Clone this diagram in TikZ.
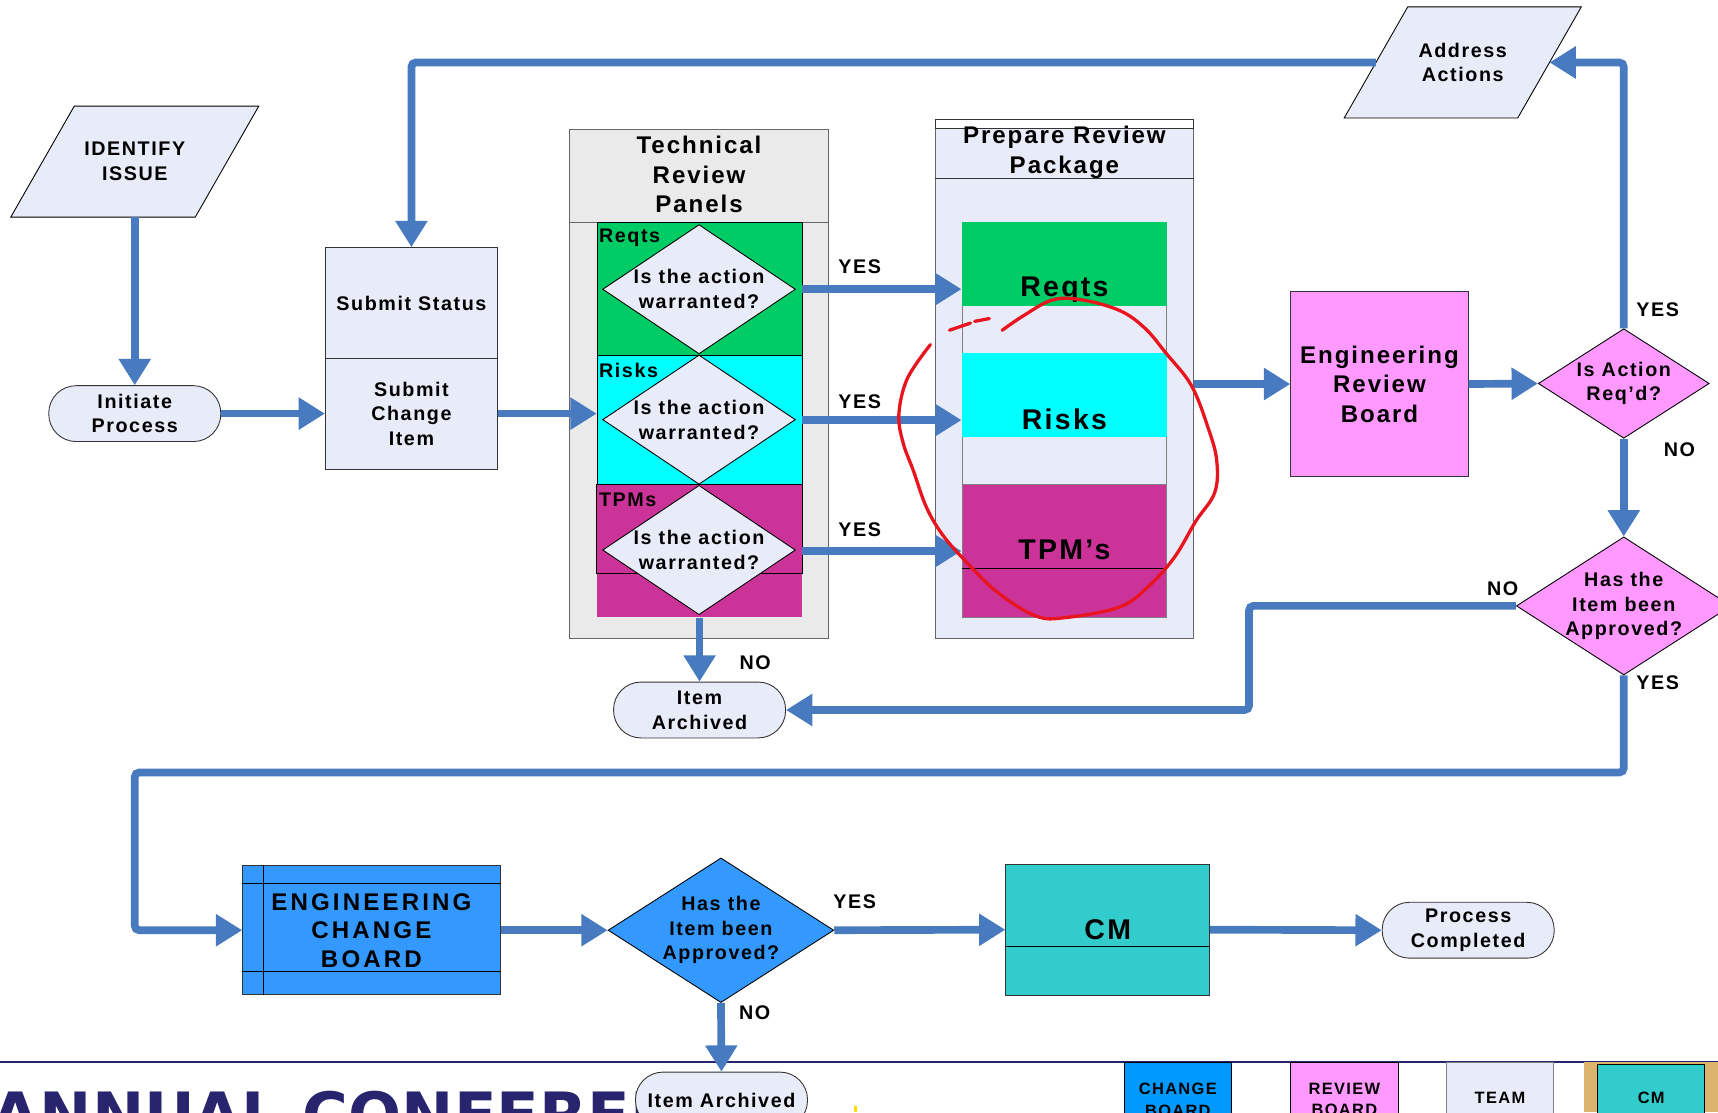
\documentclass[tikz,border=0pt]{standalone}
\usepackage{fontspec}
\setmainfont[LetterSpace=8]{Liberation Sans}
\newfontfamily\widefont[LetterSpace=13]{Liberation Sans}
\newfontfamily\conffont{DejaVu Sans}
\usetikzlibrary{shapes.geometric, arrows.meta, positioning, backgrounds}

\definecolor{flowblue}{RGB}{72,122,192}
\definecolor{boxfill}{RGB}{232,236,248}
\definecolor{panelgrey}{RGB}{234,234,234}
\definecolor{reqgreen}{RGB}{0,204,102}
\definecolor{riskcyan}{RGB}{0,255,255}
\definecolor{tpmmagenta}{RGB}{204,51,153}
\definecolor{boardpink}{RGB}{255,153,255}
\definecolor{ecbblue}{RGB}{51,153,255}
\definecolor{cmteal}{RGB}{51,204,204}
\definecolor{legblue}{RGB}{0,153,255}
\definecolor{confnavy}{RGB}{40,36,110}
\definecolor{penred}{RGB}{232,20,30}
\definecolor{framegold}{RGB}{220,180,110}

\tikzset{
  txt/.style={font=\fontsize{18}{22.5}\selectfont\bfseries, align=center},
  big/.style={font=\fontsize{22}{27}\selectfont\bfseries, align=center},
  huge/.style={font=\fontsize{26}{30}\selectfont\bfseries, align=center},
  box/.style={txt, draw=black!80, line width=0.8pt, fill=boxfill, inner sep=0pt},
  term/.style={box, rounded corners=25pt, minimum width=157pt, minimum height=51pt},
  para/.style={txt, minimum width=158pt, minimum height=101pt, inner sep=0pt},
  dia/.style={diamond, draw=black, line width=0.8pt, inner sep=0pt},
  stripe/.style={minimum width=187pt, inner sep=0pt, anchor=north, line width=0.8pt},
  legend/.style={font=\fontsize{15}{20}\selectfont\bfseries, align=center, draw=black,
    line width=0.8pt, minimum width=98pt, anchor=north, inner sep=0pt},
  flow/.style={draw=flowblue, line width=7pt, rounded corners=4pt,
    -{Triangle[width=28pt,length=24pt]}},
  yn/.style={font=\fontsize{18}{22}\selectfont\bfseries, inner sep=2pt}
}

\begin{document}
\begin{tikzpicture}[x=1pt, y=-1pt]
\useasboundingbox (0,0) rectangle (1568,1015);
\clip (0,0) rectangle (1568,1015);

% left column
\node[para, minimum width=168pt] (identify) at (123,147.5) {IDENTIFY\\ISSUE};
\node[term] (initiate) at (123,377.5) {Initiate\\Process};
\node[box, minimum width=157pt, minimum height=101pt] (submitS) at (375.5,276.5) {Submit Status};
\node[box, minimum width=157pt, minimum height=101pt] (submitC) at (375.5,377.5) {Submit\\Change\\Item};

% technical review panels
\node[draw=black!60, fill=panelgrey, line width=0.8pt, minimum width=236pt,
  minimum height=465pt, inner sep=0pt] (tech) at (638,350.5) {};
\draw[black!60, line width=0.8pt] ([yshift=-85pt]tech.north west) -- ([yshift=-85pt]tech.north east);
\node[big] (techhead) at (638,159.5) {Technical\\Review\\Panels};
\node[stripe, fill=reqgreen, draw=black, minimum height=121pt] (tReqts) at (638.5,203) {};
\node[stripe, fill=riskcyan, draw=black, minimum height=118pt] (tRisks) at (638.5,324) {};
\node[stripe, fill=tpmmagenta, minimum height=121pt] (tTPMs) at (638.5,442) {};
\draw[black, line width=0.8pt] (tTPMs.north west) rectangle ([yshift=40pt]tTPMs.south east);
\foreach \s/\y in {Reqts/264, Risks/383, TPMs/502} {
  \node[dia, fill=boxfill, minimum width=176pt, minimum height=118pt,
    label={[txt]center:{Is the action\\warranted?}}] (q\s) at (638,\y) {};
  \node[yn, anchor=west] (l\s) at ([yshift=-14pt]t\s.north west) {\s};
}

% prepare review package
\node[draw=black!60, fill=boxfill, line width=0.8pt, minimum width=235pt,
  minimum height=474pt, inner sep=0pt] (prep) at (971.5,346) {};
\draw[black!80, line width=0.8pt, fill=white] (prep.north west) rectangle ([yshift=-9pt]prep.north east);
\draw[black!80, line width=0.8pt] ([yshift=-54pt]prep.north west) -- ([yshift=-54pt]prep.north east);
\node[big] (prephead) at (971.5,139) {Prepare Review\\Package};
\node[stripe, draw=black!50, fill=boxfill, minimum height=119pt] (pReqts) at (971.5,203) {};
\node[stripe, draw=black!50, fill=boxfill, minimum height=120pt] (pRisks) at (971.5,322) {};
\node[stripe, draw=black!50, fill=tpmmagenta, minimum height=121pt] (pTPMs) at (971.5,442) {};
\fill[reqgreen] (pReqts.north west) rectangle ([yshift=-76pt]pReqts.north east);
\fill[riskcyan] (pRisks.north west) rectangle ([yshift=-77pt]pRisks.north east);
\draw[black, line width=0.8pt] ([yshift=-77pt]pTPMs.north west) -- ([yshift=-77pt]pTPMs.north east);
\node[huge] (tReqtsTxt) at ([yshift=-61pt]pReqts.north) {Reqts};
\node[huge] (tRisksTxt) at ([yshift=-61pt]pRisks.north) {Risks};
\node[huge] (tTPMsTxt) at ([yshift=-60pt]pTPMs.north) {TPM’s};

% review board and decisions
\node[box, big, fill=boardpink, minimum width=162pt, minimum height=169pt] (erb) at (1259,350.5) {Engineering\\Review\\Board};
\node[dia, fill=boardpink, minimum width=156pt, minimum height=100pt,
  label={[txt]center:{Is Action\\Req’d?}}] (actq) at (1482,350) {};
\node[para] (address) at (1335,57) {Address\\Actions};
\node[dia, fill=boardpink, minimum width=196pt, minimum height=126pt,
  label={[txt]center:{Has the\\Item been\\Approved?}}] (apprq) at (1482,553) {};
\node[term] (archive1) at (638.5,648) {Item\\Archived};

% bottom row
\node[box, fill=ecbblue, font=\widefont\fontsize{22}{26}\selectfont\bfseries,
  minimum width=235pt, minimum height=118pt] (ecb) at (339,849) {ENGINEERING\\CHANGE\\BOARD};
\draw[black, line width=0.8pt] ([xshift=19pt]ecb.north west) -- ([xshift=19pt]ecb.south west);
\draw[black, line width=0.8pt] ([yshift=-17pt]ecb.north west) -- ([yshift=-17pt]ecb.north east);
\draw[black, line width=0.8pt] ([yshift=22pt]ecb.south west) -- ([yshift=22pt]ecb.south east);
\node[dia, fill=ecbblue, minimum width=206pt, minimum height=132pt,
  label={[txt]center:{Has the\\Item been\\Approved?}}] (chq) at (658,849) {};
\node[box, huge, fill=cmteal, minimum width=186pt, minimum height=120pt] (cm) at (1011,848.5) {CM};
\draw[black, line width=0.8pt] ([yshift=-15.5pt]cm.west) -- ([yshift=-15.5pt]cm.east);
\node[term] (done) at (1340,849) {Process\\Completed};

% footer strip
\draw[confnavy, line width=2pt] (0,969) -- (1568,969);
\node[anchor=base west, text=confnavy, font=\conffont\fontsize{57}{60}\selectfont\bfseries,
  inner sep=0pt] (conf) at (-8,1038) {ANNUAL CONFERENCE};
\node[term] (archive2) at (658.5,1004) {Item Archived};
\fill[yellow!80!orange] (779,1009) rectangle (782,1015);
\node[legend, fill=legblue, minimum height=68pt] (legCB) at (1075,969) {CHANGE\\BOARD};
\node[legend, fill=boardpink, minimum height=68pt] (legRB) at (1227,969) {REVIEW\\BOARD};
\node[legend, draw=black!50, fill=boxfill, minimum height=66pt] (legTeam) at (1369,969) {TEAM};
\fill[framegold] (1446,969) rectangle (1568,1015);
\node[legend, fill=cmteal, minimum height=62pt] (legCM) at (1507,971) {CM};

% connectors
\draw[flow] (identify.south) -- (initiate.north);
\draw[flow] (initiate.east) -- (submitC.west);
\draw[flow] (submitC.east) -- (submitC.east -| tRisks.west);
\draw[flow] (address.west) -| (submitS.north);
\foreach \s/\n/\d in {Reqts/A/9, Risks/B/5, TPMs/C/8}
  \draw[flow] (t\s.east) -- (t\s.east -| p\s.west) node[yn, pos=0.36, above=\d pt] (yes\n) {YES};
\draw[flow] (prep.east |- erb.west) -- (erb.west);
\draw[flow] (erb.east) -- (actq.west);
\draw[flow] (actq.north) |- node[yn, pos=0.035, right=6pt] (yesD) {YES} (address.east);
\draw[flow] (actq.south) -- node[yn, pos=0.11, right=31pt] (noA) {NO} (apprq.north);
\coordinate (jogA) at (1140,600);
\draw[flow] (apprq.west) -| node[yn, pos=0.025, above=4pt] (noB) {NO} (jogA) |- (archive1.east);
\draw[flow] (tTPMs.south) -- node[yn, pos=0.7, right=31pt] (noC) {NO} (archive1.north);
\coordinate (jogB) at (123,705);
\draw[flow] (apprq.south) |- node[yn, pos=0.036, right=6pt] (yesE) {YES} (jogB) |- (ecb.west);
\draw[flow] (ecb.east) -- (chq.west);
\draw[flow] (chq.east) -- node[yn, pos=0.12, above=14pt] (yesF) {YES} (cm.west);
\draw[flow] (cm.east) -- (done.west);
\draw[flow] (chq.south) -- node[yn, pos=0.14, right=11pt] (noD) {NO} (archive2.north);

% hand-drawn mark
\draw[penred, line width=3pt, line cap=round, smooth, tension=0.6] plot coordinates {
  (914.6,301.5) (933.7,288.4) (960.7,273.7) (987.5,273.7) (1022.1,283.5) (1045.2,299.8)
  (1064.4,322.6) (1087.4,351.9) (1102.8,391.0) (1110.5,420.4) (1108.6,449.7) (1091.3,475.8)
  (1072.1,508.3) (1049.0,534.4) (1022.1,553.9) (972.2,563.7) (945.2,562.1) (910.7,540.9)
  (883.8,514.8) (860.7,488.7) (845.4,462.7) (833.8,430.1) (824.2,404.0) (820.4,378.0)
  (828.1,345.5) (849.2,314.5)};
\draw[penred, line width=3pt, line cap=round] (866.5,301.4) -- (885.7,294.9);
\draw[penred, line width=3pt, line cap=round] (889.6,293.3) -- (903.0,290.7);

% parallelogram outlines
\begin{scope}[on background layer]
  \fill[white] (0,0) rectangle (1568,1015);
  \foreach \n in {identify, address}
    \filldraw[fill=boxfill, draw=black, line width=0.8pt] ([xshift=29pt]\n.north west)
      -- ([xshift=29pt]\n.north east) -- ([xshift=-29pt]\n.south east)
      -- ([xshift=-29pt]\n.south west) -- cycle;
\end{scope}
\end{tikzpicture}
\end{document}
